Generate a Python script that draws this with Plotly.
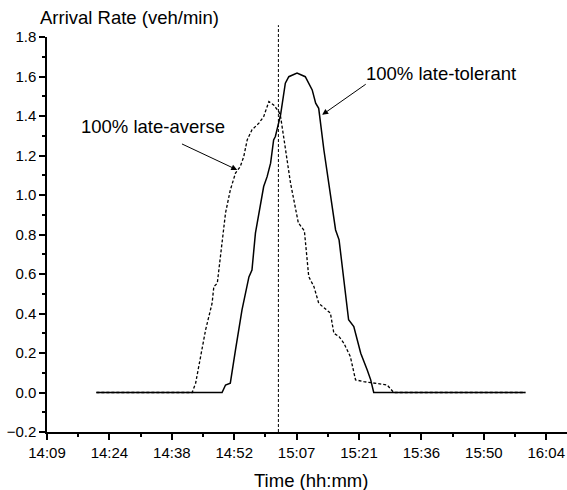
import plotly.graph_objects as go

# time in minutes since midnight
averse_t = [861.0, 883.1, 883.9, 885.0, 886.2, 887.7, 888.1, 888.9, 890.0, 890.8, 891.9, 893.1,
            894.2, 895.0, 895.8, 896.9, 898.5, 899.6, 900.8, 901.9, 903.1, 903.5, 904.2, 905.8,
            907.6, 909.0, 910.0, 911.2, 912.3, 914.3, 915.0, 915.8, 917.0, 918.1, 919.6, 920.8,
            922.7, 928.1, 929.6, 960.0]
averse_v = [0.0, 0.0, 0.047, 0.182, 0.317, 0.452, 0.536, 0.553, 0.757, 0.909, 1.025, 1.111,
            1.144, 1.194, 1.279, 1.330, 1.364, 1.397, 1.473, 1.456, 1.422, 1.397, 1.296, 1.060,
            0.859, 0.818, 0.587, 0.536, 0.452, 0.418, 0.402, 0.300, 0.283, 0.250, 0.182, 0.064,
            0.055, 0.038, 0.0, 0.0]

tolerant_t = [861.0, 890.0, 890.8, 891.9, 893.1, 894.6, 896.2, 896.9, 897.7, 898.1, 898.9, 899.6,
              900.4, 901.2, 901.9, 902.3, 903.5, 904.6, 905.4, 907.3, 909.2, 910.8, 911.6, 912.3,
              913.5, 915.0, 916.2, 917.0, 918.1, 919.2, 920.4, 922.0, 923.5, 924.3, 925.0, 960.0]
tolerant_v = [0.0, 0.0, 0.038, 0.047, 0.216, 0.418, 0.585, 0.620, 0.807, 0.857, 0.975, 1.043,
              1.093, 1.161, 1.279, 1.296, 1.406, 1.566, 1.599, 1.617, 1.599, 1.532, 1.465, 1.439,
              1.228, 1.009, 0.823, 0.773, 0.570, 0.368, 0.334, 0.199, 0.114, 0.064, 0.0, 0.0]

tick_vals = [849.6, 864.0, 878.4, 892.8, 907.2, 921.6, 936.0, 950.4, 964.8]
tick_text = ["14:09", "14:24", "14:38", "14:52", "15:07", "15:21", "15:36", "15:50", "16:04"]
ref_time = 903.0

FONT = "Liberation Sans, Arial, sans-serif"

fig = go.Figure()
fig.add_trace(go.Scatter(x=averse_t, y=averse_v, mode="lines",
                         line=dict(color="black", width=1.3, dash="3px,2px"),
                         name="100% late-averse", hoverinfo="skip"))
fig.add_trace(go.Scatter(x=tolerant_t, y=tolerant_v, mode="lines",
                         line=dict(color="black", width=1.5),
                         name="100% late-tolerant", hoverinfo="skip"))

fig.add_shape(type="line", xref="x", yref="paper", x0=ref_time, x1=ref_time, y0=0, y1=1.03,
              line=dict(color="black", width=1, dash="3px,2px"))

# arrows
fig.add_annotation(x=893.5, y=1.127, ax=880.4, ay=1.262, axref="x", ayref="y", xref="x", yref="y",
                   showarrow=True, arrowhead=2, arrowsize=1.2, arrowwidth=1, arrowcolor="black", text="")
fig.add_annotation(x=913.1, y=1.406, ax=923.5, ay=1.566, axref="x", ayref="y", xref="x", yref="y",
                   showarrow=True, arrowhead=2, arrowsize=1.2, arrowwidth=1, arrowcolor="black", text="")
# labels
fig.add_annotation(x=857.0, y=1.346, xref="x", yref="y", text="100% late-averse", showarrow=False,
                   xanchor="left", yanchor="middle", font=dict(size=18.5, color="black", family=FONT))
fig.add_annotation(x=922.8, y=1.617, xref="x", yref="y", text="100% late-tolerant", showarrow=False,
                   xanchor="left", yanchor="middle", font=dict(size=18.5, color="black", family=FONT))

# axis titles
fig.add_annotation(x=(38 - 47) / 520, y=1 + (37 - 18) / 395,
                   xref="paper", yref="paper", text="Arrival Rate (veh/min)", showarrow=False,
                   xanchor="left", yanchor="middle", font=dict(size=18.5, color="black", family=FONT))
fig.add_annotation(x=(311 - 47) / 520, y=-(480 - 432) / 395, xref="paper", yref="paper",
                   text="Time (hh:mm)", showarrow=False, xanchor="center", yanchor="middle",
                   font=dict(size=18.5, color="black", family=FONT))

fig.update_layout(
    width=567, height=490,
    margin=dict(l=47, r=0, t=37, b=58),
    paper_bgcolor="white", plot_bgcolor="white",
    showlegend=False, hovermode=False,
    font=dict(family=FONT, color="black", size=15),
    xaxis=dict(range=[849.6, 969.6], tickmode="array", tickvals=tick_vals, ticktext=tick_text,
               showgrid=False, zeroline=False, showline=True, linecolor="black", linewidth=1.5,
               ticks="outside", ticklen=6, tickwidth=1.5, tickcolor="black",
               tickfont=dict(size=15), ticklabeloverflow="allow",
               minor=dict(tickmode="linear", tick0=849.6, dtick=7.2, ticks="outside",
                          ticklen=3, tickwidth=1.5, tickcolor="black")),
    yaxis=dict(range=[-0.2, 1.8], tickmode="linear", tick0=-0.2, dtick=0.2, tickformat=".1f",
               showgrid=False, zeroline=False, showline=True, linecolor="black", linewidth=1.5,
               ticks="outside", ticklen=6, tickwidth=1.5, tickcolor="black",
               tickfont=dict(size=15),
               minor=dict(tickmode="linear", tick0=-0.2, dtick=0.1, ticks="outside",
                          ticklen=3, tickwidth=1.5, tickcolor="black")),
)

fig.write_html("out.html", config={"displayModeBar": False},
               post_script="document.body.style.margin='0';document.body.style.overflow='hidden';")
